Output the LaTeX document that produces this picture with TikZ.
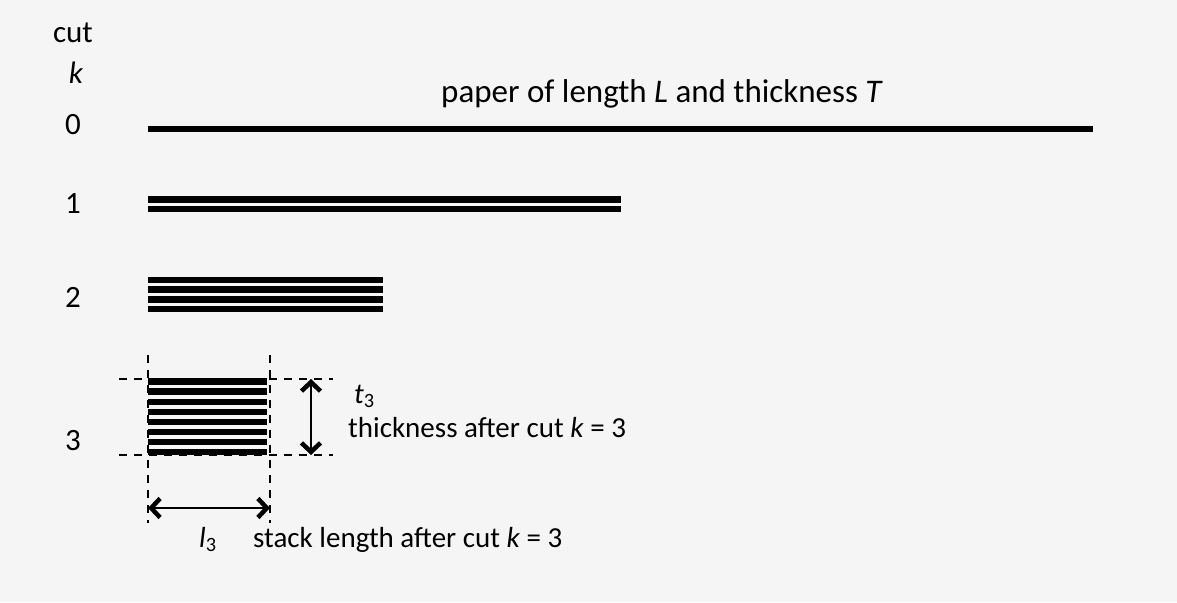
\documentclass[tikz,border=0pt]{standalone}
\usepackage{fontspec}
\setmainfont{Carlito}
\usetikzlibrary{arrows.meta}
\definecolor{bgc}{HTML}{F5F5F5}
\begin{document}
\begin{tikzpicture}[x=1pt,y=-1pt,
  lbl/.style={inner sep=0pt,font=\fontsize{31}{36}\selectfont},
  dlbl/.style={inner sep=0pt,font=\fontsize{29}{34}\selectfont},
  sheet/.style={line width=6.5pt,black},
  guide/.style={line width=2pt,dash pattern=on 8pt off 7pt},
  dim/.style={line width=2.5pt,{Straight Barb[length=9pt,width=19pt,line width=4.5pt 0 1]}-{Straight Barb[length=9pt,width=19pt,line width=4.5pt 0 1]}}]
\fill[bgc] (0,0) rectangle (1177,602);
\useasboundingbox (0,0) rectangle (1177,602);
% row labels
\node[lbl,anchor=base] (cut) at (73,43) {cut};
\node[lbl,anchor=base] (k) at (76,83) {\textit{k}};
\node[lbl,anchor=base] (r0) at (73,134) {0};
\node[lbl,anchor=base] (r1) at (73,213) {1};
\node[lbl,anchor=base] (r2) at (73,307) {2};
\node[lbl,anchor=base] (r3) at (73,450) {3};
\node[inner sep=0pt,font=\fontsize{33}{38}\selectfont,anchor=base west] (title) at (441,102) {paper of length \textit{L} and thickness \textit{T}};
% k = 0
\draw[sheet] (148,129) -- (1093,129);
% k = 1
\foreach \y in {199.5,209} \draw[sheet] (148,\y) -- (621,\y);
% k = 2
\foreach \y in {280,289.5,299.5,309} \draw[sheet] (148,\y) -- (383,\y);
% k = 3
\foreach \y in {381.5,391.5,402,412,422,432,442,452} \draw[sheet] (148,\y) -- (267,\y);
% guides
\coordinate (vlt) at (148,355); \coordinate (vlb) at (148,523);
\coordinate (vrt) at (270,355); \coordinate (vrb) at (270,523);
\coordinate (hlt) at (119,379); \coordinate (hrt) at (333,379);
\coordinate (hlb) at (119,455); \coordinate (hrb) at (333,455);
\draw[guide] (vlt) -- (vlb);
\draw[guide] (vrt) -- (vrb);
\draw[guide] (hlt) -- (hrt);
\draw[guide] (hlb) -- (hrb);
% dimension arrows
\coordinate (at) at (311,379); \coordinate (ab) at (311,455);
\draw[dim] (at) -- (ab);
\coordinate (al) at (148,508); \coordinate (ar) at (270,508);
\draw[dim] (al) -- (ar);
% dimension labels
\node[dlbl,anchor=base west] (t3) at (354,403) {\textit{t}\textsubscript{3}};
\node[dlbl,anchor=base west] (tl) at (348,437) {thickness after cut \textit{k} = 3};
\node[dlbl,anchor=base west] (l3) at (199,547) {\textit{l}\textsubscript{3}};
\node[dlbl,anchor=base west] (sl) at (253,547) {stack length after cut \textit{k} = 3};
\end{tikzpicture}
\end{document}
